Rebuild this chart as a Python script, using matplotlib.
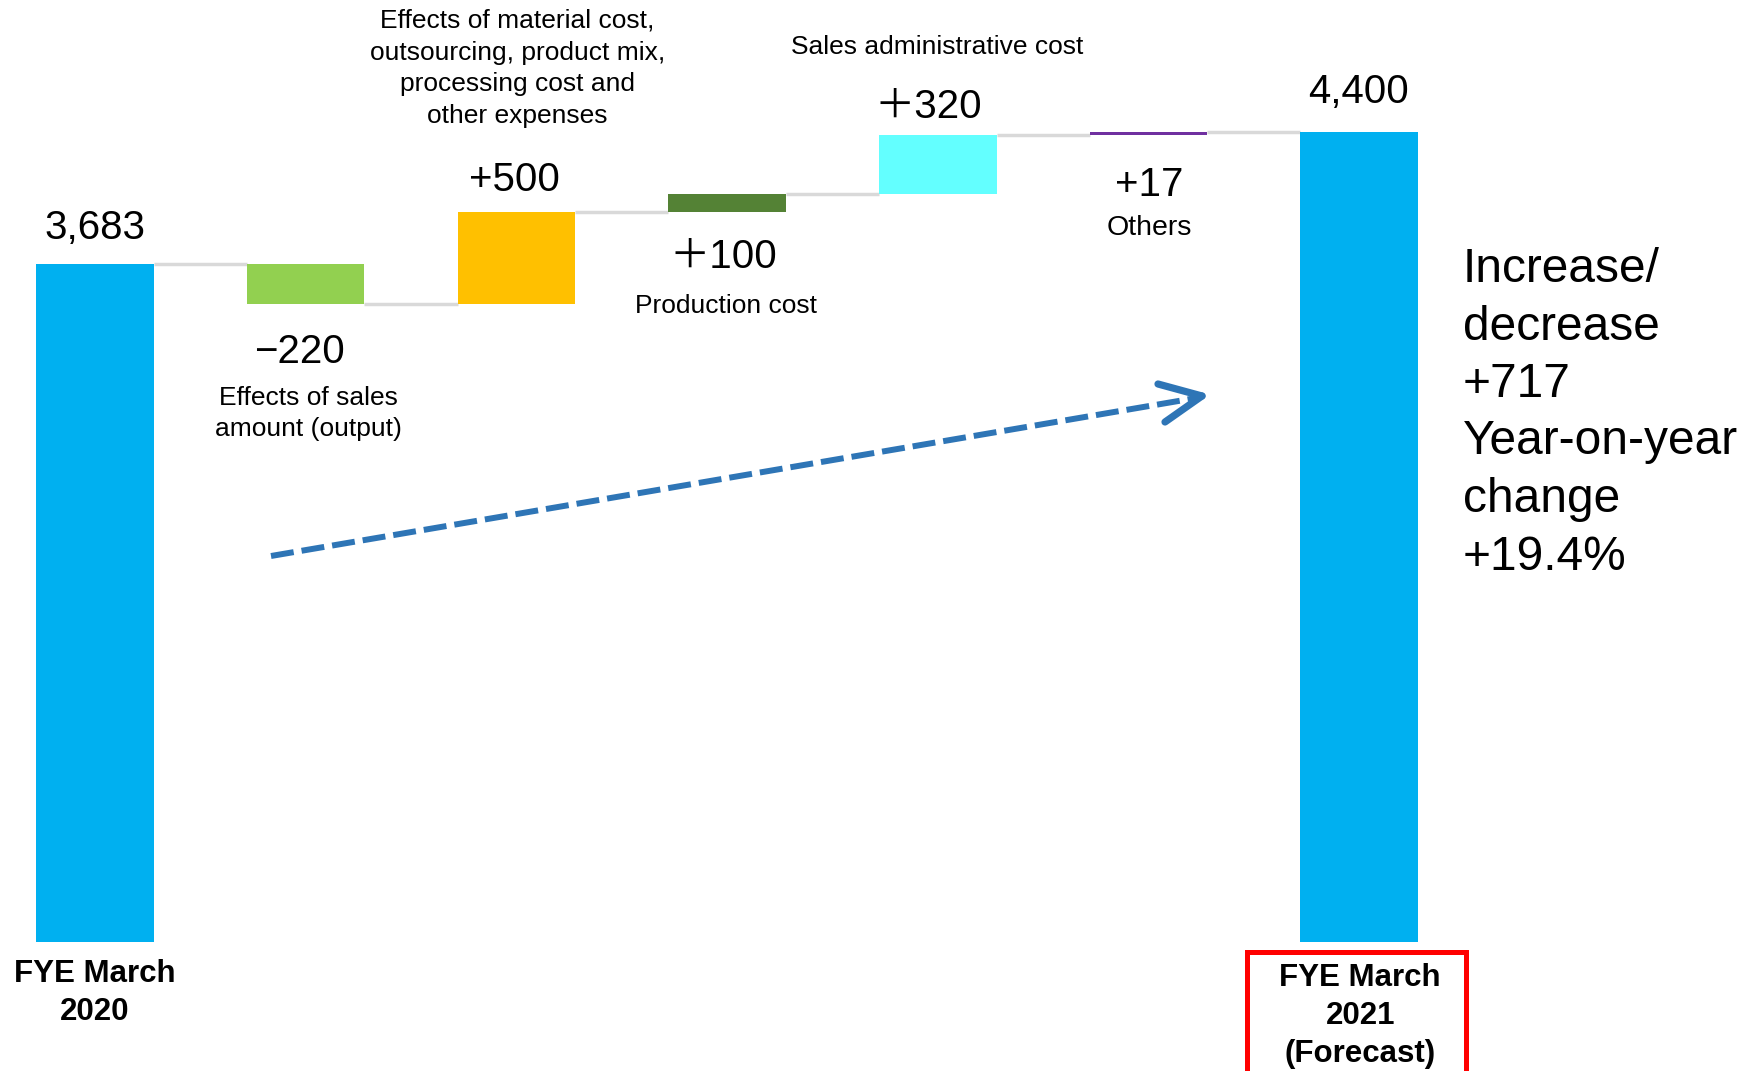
import matplotlib
matplotlib.use("Agg")
import matplotlib.pyplot as plt
from matplotlib import font_manager
from matplotlib.patches import Rectangle
import numpy as np

# ---------------- data ----------------
categories = ["FYE March\n2020",
              "Effects of sales\namount (output)",
              "Effects of material cost,\noutsourcing, product mix,\nprocessing cost and\nother expenses",
              "Production cost",
              "Sales administrative cost",
              "Others",
              "FYE March\n2021\n(Forecast)"]
start_value = 3683
changes = [-220, 500, 100, 320, 17]
end_value = 4400
value_labels = ["3,683", "\u2212220", "+500", "\uff0b100", "\uff0b320", "+17", "4,400"]
summary_lines = ["Increase/", "decrease", "+717", "Year-on-year", "change", "+19.4%"]
bar_colors = ["#00B0F0", "#92D050", "#FFC000", "#548235", "#63FFFF", "#7030A0", "#00B0F0"]

# ---------------- fonts ----------------
names = {f.name for f in font_manager.fontManager.ttflist}
narrow = "Liberation Sans Narrow" in names
num_font = ["Liberation Sans Narrow" if narrow else "Liberation Sans",
            "Noto Sans CJK JP", "DejaVu Sans"]
num_size = 32 if narrow else 29
txt_font = ["Liberation Sans", "DejaVu Sans"]

# ---------------- waterfall geometry ----------------
n = len(categories)
x = np.arange(n)
bottoms, heights = [0], [start_value]
level = start_value
for c in changes:
    if c >= 0:
        bottoms.append(level); heights.append(c)
    else:
        bottoms.append(level + c); heights.append(-c)
    level += c
bottoms.append(0); heights.append(end_value)
bottoms = np.array(bottoms); heights = np.array(heights)
tops = bottoms + heights
levels = [start_value] + list(start_value + np.cumsum(changes))  # level after each bar

W, H = 1754, 1071
fig = plt.figure(figsize=(W / 100, H / 100), dpi=100)
ax = fig.add_axes([0, 0, 1, 1])
pxu = 210.7
ax.set_xlim(-95 / pxu, (W - 95) / pxu)
ys = (942 - 132) / end_value
ax.set_ylim(-(H - 942) / ys, 942 / ys)
ax.axis("off")

bw = 0.558
ax.bar(x, heights, bottom=bottoms, width=bw, color=bar_colors, zorder=3)

# connectors
for i in range(n - 1):
    lv = levels[i]
    ax.plot([x[i] + bw / 2, x[i + 1] - bw / 2], [lv, lv], color="#D9D9D9", lw=2.5,
            solid_capstyle="butt", zorder=2)

# value labels: (anchor 'top'/'bottom', pixel offset)
label_pos = [("top", 36), ("bottom", -48), ("top", 32), ("bottom", -45),
             ("top", 28), ("bottom", -50), ("top", 40)]
label_dx = [0, -6, -2, -4, -10, 1, -1]
for i, (lab, (where, off)) in enumerate(zip(value_labels, label_pos)):
    yv = tops[i] if where == "top" else bottoms[i]
    ax.annotate(lab, (x[i], yv), xytext=(label_dx[i], off), textcoords="offset pixels",
                ha="center", va="center", fontsize=num_size, family=num_font, color="black")

# description labels
desc_pos = {1: ("bottom", -109, 3, 19), 2: ("top", 144, 1, 19), 3: ("bottom", -94, -1, 19),
            4: ("top", 88, -1, 19), 5: ("bottom", -93, 1, 20.5)}
for i, (where, off, dx, fs) in desc_pos.items():
    yv = tops[i] if where == "top" else bottoms[i]
    ax.annotate(categories[i], (x[i], yv), xytext=(dx, off), textcoords="offset pixels",
                ha="center", va="center", fontsize=fs, family=txt_font,
                linespacing=1.41, color="black")

# axis category labels (bold)
ax.annotate(categories[0], (x[0], 0), xytext=(0, -51), textcoords="offset pixels",
            ha="center", va="center", fontsize=22.5, family=txt_font, weight="bold",
            linespacing=1.36)
ax.annotate(categories[6], (x[6], 0), xytext=(1, -74), textcoords="offset pixels",
            ha="center", va="center", fontsize=22.5, family=txt_font, weight="bold",
            linespacing=1.36)

# red frame around forecast label
fig.patches.append(Rectangle((1247 / W, -0.05), 219 / W, (H - 952) / H + 0.05,
                             transform=fig.transFigure, fill=False, edgecolor="#FF0000",
                             lw=3.6, zorder=5))

# summary text, one line per row
for k, line in enumerate(summary_lines):
    fig.text(1463 / W, 1 - (282 + 57.5 * k) / H, line, ha="left", va="baseline",
             fontsize=34.5, family=txt_font, color="black")

# dashed trend arrow
p0 = (271, 556); p1 = (1196, 398)
def fx(p):
    return (p[0] / W, 1 - p[1] / H)
ln = plt.Line2D([fx(p0)[0], fx(p1)[0]], [fx(p0)[1], fx(p1)[1]], transform=fig.transFigure,
                color="#2E75B6", lw=4.3, solid_capstyle="butt", dash_capstyle="butt")
ln.set_dashes((3.85, 1.34))
fig.lines.append(ln)
tip = (1202, 396)
for arm in [(1158, 384), (1165, 422)]:
    fig.lines.append(plt.Line2D([fx(arm)[0], fx(tip)[0]], [fx(arm)[1], fx(tip)[1]],
                                transform=fig.transFigure, color="#2E75B6", lw=5.2,
                                solid_capstyle="round"))

fig.savefig("out.png", dpi=100)
